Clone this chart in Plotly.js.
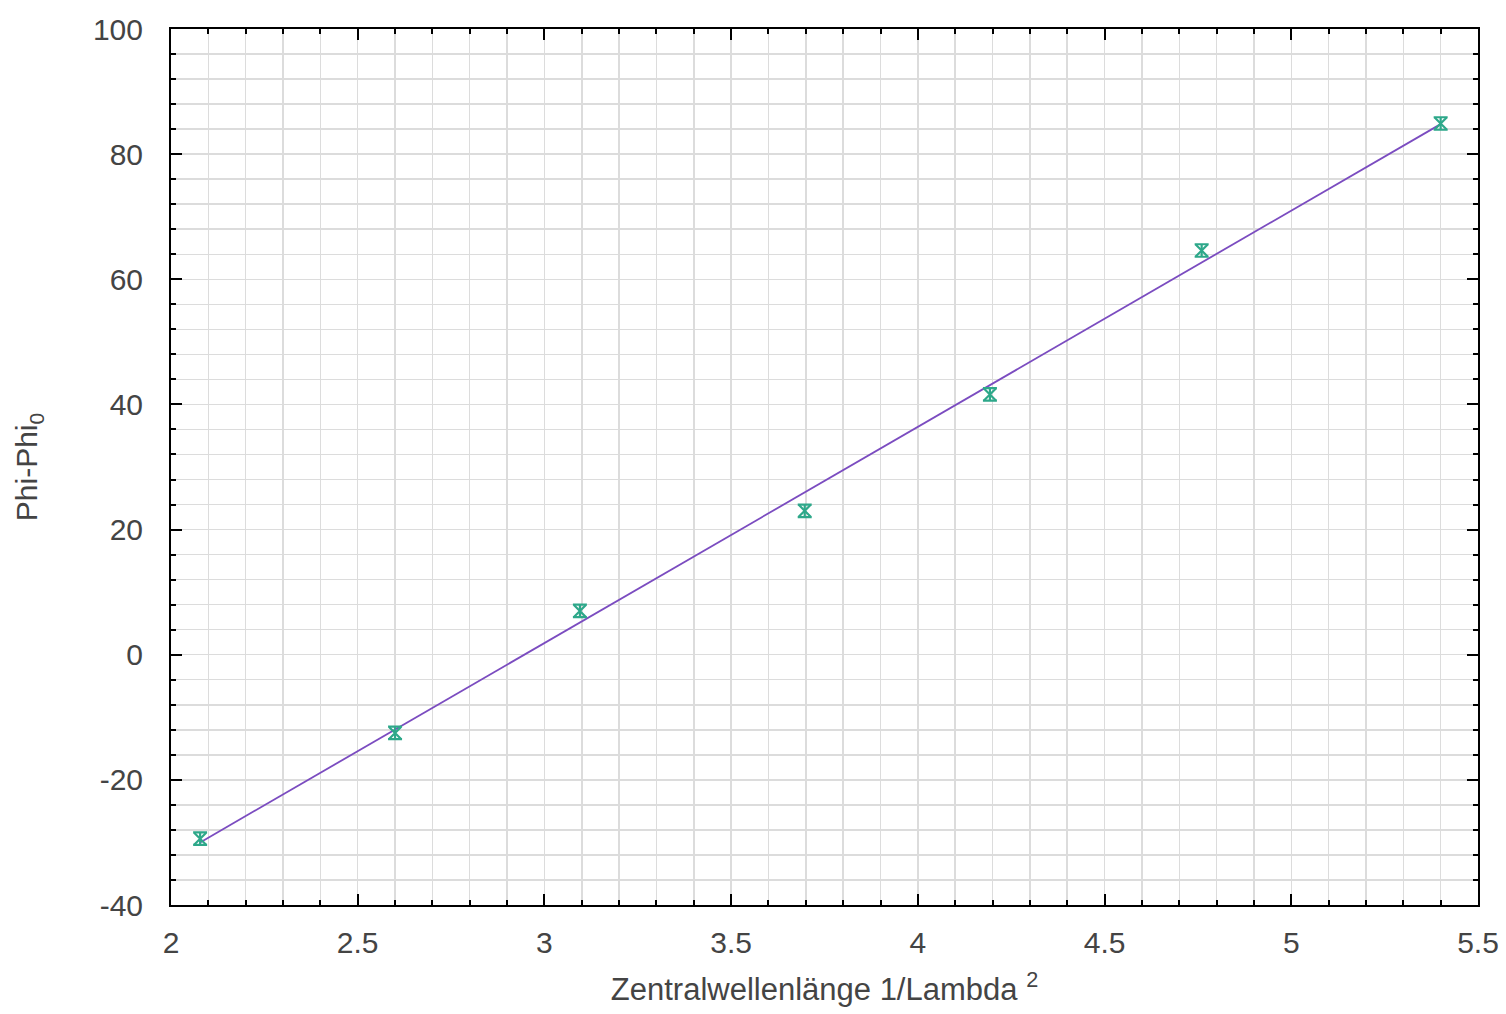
<!DOCTYPE html>
<html>
<head>
<meta charset="utf-8">
<script src="https://cdn.plot.ly/plotly-3.0.1.min.js"></script>
<style>html,body{margin:0;padding:0;background:#fff;}#chart{width:1506px;height:1014px;}</style>
</head>
<body>
<div id="chart"></div>
<script>
// Measured points: x = 1/lambda^2, y = Phi - Phi0
const pointsX = [2.078, 2.600, 3.095, 3.697, 4.193, 4.760, 5.400];
const pointsY = [-29.4, -12.5, 7.0, 23.0, 41.6, 64.6, 84.9];
const pointsErr = [1.0, 1.0, 1.0, 1.0, 1.0, 1.0, 1.0];
// Fitted straight line, end points
const lineX = [2.078, 5.400];
const lineY = [-30.0, 84.8];
// Axis ticks
const xTicks = [2, 2.5, 3, 3.5, 4, 4.5, 5, 5.5];
const xTickLabels = ['2', '2.5', '3', '3.5', '4', '4.5', '5', '5.5'];
const yTicks = [-40, -20, 0, 20, 40, 60, 80, 100];
const yTickLabels = ['-40', '-20', '0', '20', '40', '60', '80', '100'];

const gridColor = '#dcdcdc';
const fontFamily = 'Liberation Sans, Arial, sans-serif';
const tickFont = {family: fontFamily, size: 30, color: '#444444'};

const traces = [
  {
    x: lineX, y: lineY, type: 'scatter', mode: 'lines',
    line: {color: '#7b4cc0', width: 1.8}, hoverinfo: 'skip', showlegend: false
  },
  {
    x: pointsX, y: pointsY, type: 'scatter', mode: 'markers',
    marker: {symbol: 'x-thin', size: 12, line: {color: '#2ea88a', width: 2.2}, color: '#2ea88a'},
    error_y: {type: 'data', array: pointsErr, visible: true, color: '#2ea88a', thickness: 2.2, width: 7},
    showlegend: false
  }
];

const layout = {
  width: 1506, height: 1014,
  paper_bgcolor: '#ffffff', plot_bgcolor: '#ffffff',
  margin: {l: 171, r: 28, t: 29, b: 109, pad: 0},
  showlegend: false,
  xaxis: {
    range: [2, 5.5], tickvals: xTicks, ticktext: xTickLabels,
    ticks: 'inside', ticklen: 11, tickwidth: 2, tickcolor: '#000',
    showline: true, linecolor: '#000', linewidth: 2, mirror: 'ticks',
    showgrid: true, gridcolor: gridColor, gridwidth: 1.5, zeroline: false,
    tickfont: tickFont, ticklabelstandoff: 10,
    minor: {dtick: 0.1, tick0: 2, ticks: 'inside', ticklen: 5, tickwidth: 2, tickcolor: '#000', showgrid: true, gridcolor: gridColor, gridwidth: 1.5},
    title: {text: 'Zentralwellenlänge 1/Lambda <sup>2</sup>', font: {family: fontFamily, size: 31, color: '#444444'}, standoff: 20}
  },
  yaxis: {
    range: [-40, 100], tickvals: yTicks, ticktext: yTickLabels,
    ticks: 'inside', ticklen: 11, tickwidth: 2, tickcolor: '#000',
    showline: true, linecolor: '#000', linewidth: 2, mirror: 'ticks',
    showgrid: true, gridcolor: gridColor, gridwidth: 1.5, zeroline: false,
    tickfont: tickFont, ticklabelstandoff: 20,
    minor: {dtick: 4, tick0: 0, ticks: 'inside', ticklen: 5, tickwidth: 2, tickcolor: '#000', showgrid: true, gridcolor: gridColor, gridwidth: 1.5},
    title: {text: 'Phi-Phi<sub>0</sub>', font: {family: fontFamily, size: 30, color: '#444444'}, standoff: 46}
  }
};

Plotly.newPlot('chart', traces, layout, {displayModeBar: false, staticPlot: true});
</script>
</body>
</html>
